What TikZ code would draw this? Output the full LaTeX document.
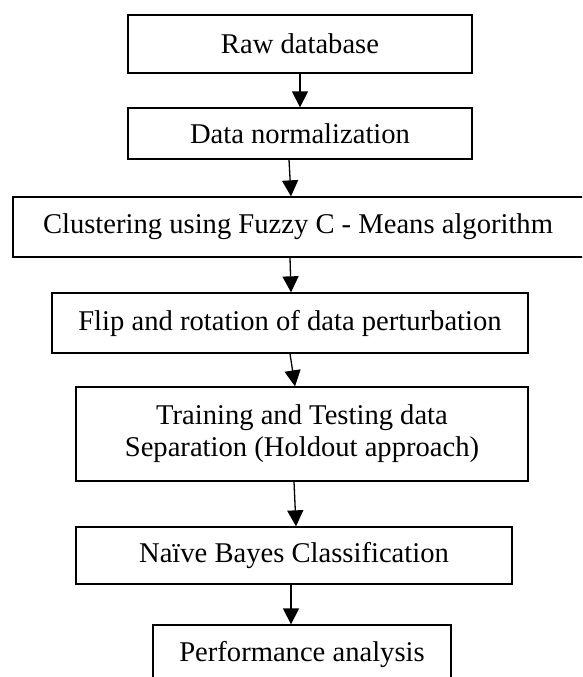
\documentclass[tikz,border=0pt]{standalone}
\usepackage{fontspec}
\setmainfont{Liberation Serif}
\usetikzlibrary{arrows.meta}
\begin{document}
\begin{tikzpicture}[x=1pt,y=-1pt,
  box/.style={draw=black, line width=1.3pt, fill=white, inner sep=0pt, align=center,
    font=\fontsize{28.6}{32}\selectfont},
  arr/.style={draw=black, line width=1.3pt, -{Triangle[length=16pt,width=16pt]}}]
\clip (0,0) rectangle (582,677);
\fill[white] (0,0) rectangle (582,677);
\node[box, minimum width=344pt, minimum height=58pt] (raw) at (300,44) {Raw database};
\node[box, minimum width=344pt, minimum height=51pt] (norm) at (300,133.5) {Data normalization};
\node[box, minimum width=576pt, minimum height=60pt] (clus) at (301,227) {\hspace*{-6pt}Clustering using Fuzzy C - Means algorithm};
\node[box, minimum width=476pt, minimum height=60pt] (flip) at (290,323) {Flip and rotation of data perturbation};
\node[box, minimum width=452pt, minimum height=94pt] (train) at (302,434) {Training and Testing data\\Separation (Holdout approach)};
\node[box, minimum width=436pt, minimum height=57pt] (naive) at (294,555.5) {Naïve Bayes Classification};
\node[box, minimum width=298pt, minimum height=60pt] (perf) at (302,655) {Performance analysis};
\draw[arr] (raw.south) -- (norm.north);
\draw[arr] ([xshift=-11pt]norm.south) -- ([xshift=-10pt]clus.north);
\draw[arr] ([xshift=-11pt]clus.south) -- ([xshift=1pt]flip.north);
\draw[arr] (flip.south) -- ([xshift=-7pt]train.north);
\draw[arr] ([xshift=-8pt]train.south) -- ([xshift=2pt]naive.north);
\draw[arr] ([xshift=-3pt]naive.south) -- ([xshift=-11pt]perf.north);
\end{tikzpicture}
\end{document}
